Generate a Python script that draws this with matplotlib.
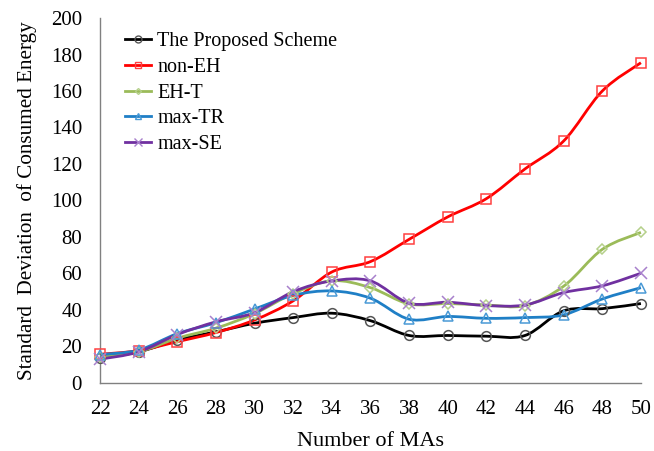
import numpy as np
import matplotlib.pyplot as plt
from matplotlib.path import Path
from matplotlib.patches import PathPatch

plt.rcParams['font.family'] = ['Liberation Serif', 'DejaVu Serif']

num_mas = [22, 24, 26, 28, 30, 32, 34, 36, 38, 40, 42, 44, 46, 48, 50]

proposed = [13.7, 17.0, 23.5, 28.0, 32.7, 35.8, 38.2, 34.1, 26.0, 26.0, 25.6, 26.0, 39.5, 40.7, 43.5]
non_eh = [15.7, 17.7, 22.6, 27.6, 34.5, 45.0, 60.8, 66.5, 78.7, 91.0, 101.0, 117.3, 132.6, 160.0, 175.5]
eh_t = [14.0, 17.0, 24.5, 30.0, 38.0, 49.0, 56.0, 52.2, 43.3, 43.5, 42.7, 42.4, 53.0, 73.2, 82.5]
max_tr = [15.5, 18.0, 27.0, 33.0, 40.5, 48.0, 50.4, 46.4, 34.9, 36.4, 35.4, 35.8, 37.3, 46.0, 52.2]
max_se = [13.0, 17.0, 26.5, 33.5, 38.5, 50.0, 55.9, 55.9, 43.7, 44.2, 42.4, 42.7, 49.5, 53.2, 60.1]

SERIES = [
    ('The Proposed Scheme', proposed, '#000000', '#555555', 'o', 7),
    ('non-EH', non_eh, '#FF0000', '#FF4040', 's', 7),
    ('EH-T', eh_t, '#9BBB59', '#B5D08A', 'D', 5),
    ('max-TR', max_tr, '#1F7FC6', '#4A9AD6', '^', 7),
    ('max-SE', max_se, '#7030A0', '#A880CC', 'x', 8),
]


def smooth_path(x, y, tension=1 / 6):
    # cardinal-spline style bezier through every point
    x = np.asarray(x, float)
    y = np.asarray(y, float)
    verts = [(x[0], y[0])]
    codes = [Path.MOVETO]
    n = len(x)
    for i in range(n - 1):
        i0 = max(i - 1, 0)
        i3 = min(i + 2, n - 1)
        c1 = (x[i] + (x[i + 1] - x[i0]) * tension, y[i] + (y[i + 1] - y[i0]) * tension)
        c2 = (x[i + 1] - (x[i3] - x[i]) * tension, y[i + 1] - (y[i3] - y[i]) * tension)
        verts += [c1, c2, (x[i + 1], y[i + 1])]
        codes += [Path.CURVE4] * 3
    return Path(verts, codes)


fig = plt.figure(figsize=(6.54, 4.51), dpi=100)
ax = fig.add_axes([0.153, 0.151, 0.827, 0.809])

for label, vals, color, mcolor, marker, ms in SERIES:
    ax.add_patch(PathPatch(smooth_path(num_mas, vals), facecolor='none',
                           edgecolor=color, linewidth=2, clip_on=False, zorder=2))
    ax.plot(num_mas, vals, linestyle='none', marker=marker, markersize=ms,
            markerfacecolor='none', markeredgecolor=mcolor, markeredgewidth=1.1,
            clip_on=False, zorder=3)
    # legend proxy
    ax.plot([], [], color=color, linewidth=2, marker=marker, markersize=ms - 2,
            markerfacecolor='none', markeredgecolor=mcolor, label=label)

ax.set_xlim(22, 50)
ax.set_ylim(0, 200)
ax.set_xticks(num_mas)
ax.set_yticks(range(0, 201, 20))
ax.tick_params(length=0, labelsize=15)
ax.tick_params(axis='y', pad=13)
ax.tick_params(axis='x', pad=12)

for side in ['top', 'right']:
    ax.spines[side].set_visible(False)
for side in ['left', 'bottom']:
    ax.spines[side].set_color('#808080')
    ax.spines[side].set_linewidth(1)

ax.set_xlabel('Number of MAs', fontsize=16, labelpad=10)
ax.set_ylabel('Standard  Deviation  of Consumed Energy', fontsize=15.2, labelpad=10)

ax.legend(loc='upper left', bbox_to_anchor=(0.02, 1.0), frameon=False,
          fontsize=14.5, handlelength=1.3, handletextpad=0.3, labelspacing=0.33,
          borderaxespad=0.3)

fig.savefig('out.png', dpi=100)
